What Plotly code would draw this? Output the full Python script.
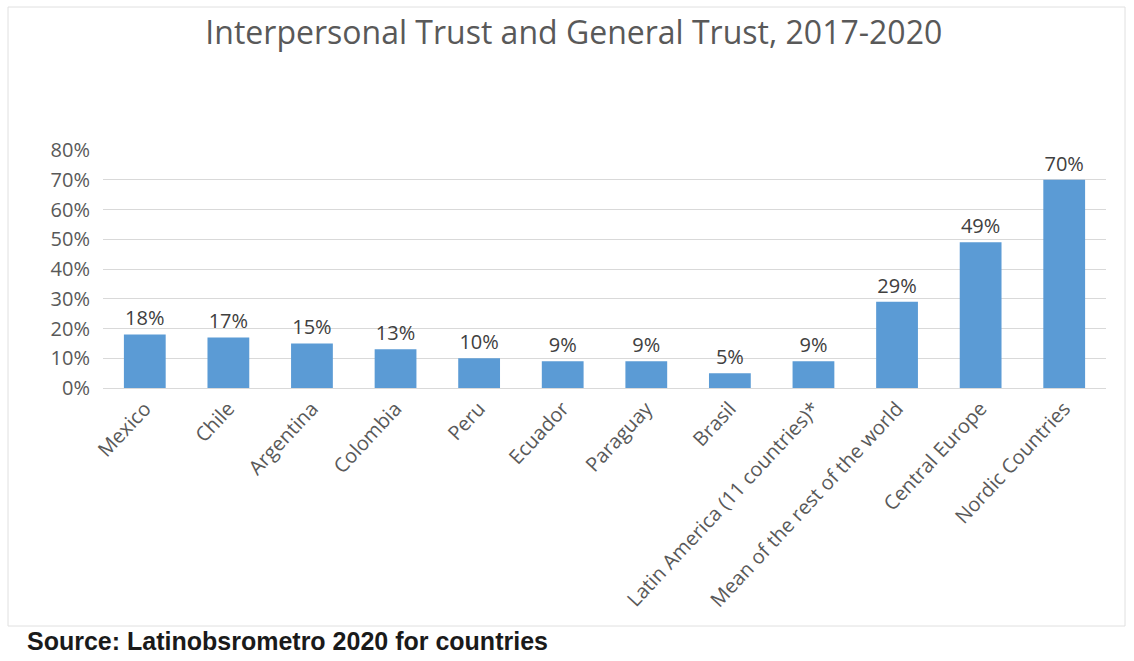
import plotly.graph_objects as go

categories = ["Mexico", "Chile", "Argentina", "Colombia", "Peru", "Ecuador", "Paraguay",
              "Brasil", "Latin America (11 countries)*", "Mean of the rest of the world",
              "Central Europe", "Nordic Countries"]
values = [0.18, 0.17, 0.15, 0.13, 0.10, 0.09, 0.09, 0.05, 0.09, 0.29, 0.49, 0.70]
labels = ["18%", "17%", "15%", "13%", "10%", "9%", "9%", "5%", "9%", "29%", "49%", "70%"]
tick_vals = [0, 0.1, 0.2, 0.3, 0.4, 0.5, 0.6, 0.7, 0.8]
tick_text = ["0%", "10%", "20%", "30%", "40%", "50%", "60%", "70%", "80%"]

FONT = "Open Sans, Lato, DejaVu Sans, sans-serif"
GRAY = "#595959"

fig = go.Figure(go.Bar(
    x=categories, y=values, text=labels, textposition="outside",
    textfont=dict(family=FONT, size=20, color="#404040"),
    marker=dict(color="#5B9BD5", line=dict(width=0)),
    width=0.5, cliponaxis=False,
))

fig.update_layout(
    width=1134, height=661,
    margin=dict(l=103, r=28, t=150, b=273),
    paper_bgcolor="white", plot_bgcolor="white",
    showlegend=False,
    title=dict(text="Interpersonal Trust and General Trust, 2017-2020",
               x=0.506, xanchor="center", y=0.951, yanchor="middle",
               font=dict(family=FONT, size=32, color=GRAY)),
    xaxis=dict(tickangle=-47, tickfont=dict(family=FONT, size=20, color=GRAY),
               showline=True, linecolor="#D9D9D9", linewidth=1, ticks="",
               showgrid=False),
    yaxis=dict(range=[0, 0.8], tickvals=tick_vals, ticktext=tick_text,
               tickfont=dict(family=FONT, size=20, color=GRAY),
               showgrid=True, gridcolor="#D9D9D9", gridwidth=1,
               zeroline=False, showline=False, ticks="", ticklabelstandoff=12),
    shapes=[dict(type="rect", xref="paper", yref="paper",
                 x0=-95/1003, x1=(1125-103)/1003,
                 y0=-(626-388)/238, y1=(388-7)/238,
                 line=dict(color="#E0E0E0", width=1), fillcolor="rgba(0,0,0,0)",
                 layer="below")],
    annotations=[dict(text="<b>Source: Latinobsrometro 2020 for countries</b>",
                      xref="paper", yref="paper",
                      x=(25-103)/1003, xanchor="left",
                      y=-(641-388)/238, yanchor="middle", showarrow=False,
                      font=dict(family="Liberation Sans, Arial, sans-serif", size=25, color="#1a1a1a"))],
)

fig.write_html("out.html")
